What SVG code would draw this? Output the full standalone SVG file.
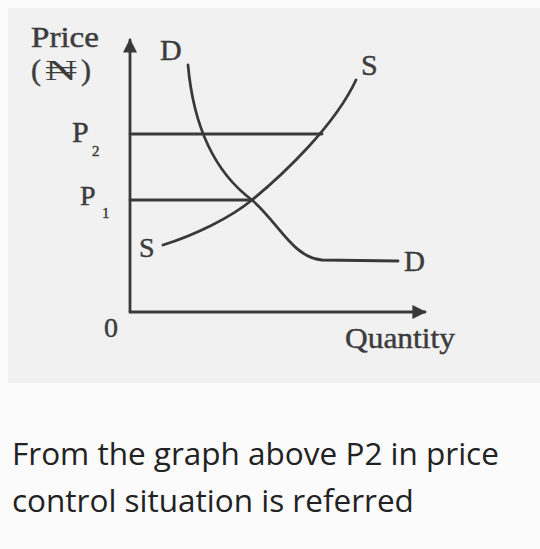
<svg xmlns="http://www.w3.org/2000/svg" width="540" height="549" viewBox="0 0 540 549">
<style>
.lbl{font-family:"Liberation Serif","DejaVu Serif",serif;fill:#3c3c3c;stroke:#3c3c3c;stroke-width:0.45}
.ln{fill:none;stroke:#3a3a3a;stroke-width:2.8;stroke-linecap:round}
.cap{font-family:"Open Sans","Noto Sans",sans-serif;font-size:31.5px;fill:#222}
</style>
<defs>
<marker id="ah" viewBox="0 0 10 10" refX="9" refY="5" markerWidth="5" markerHeight="5" orient="auto" markerUnits="strokeWidth">
<path d="M0,0 L10,5 L0,10 z" fill="#3a3a3a"/>
</marker>
</defs>
<rect width="540" height="549" fill="#fbfbfb"/>
<rect x="8" y="8" width="532" height="375" fill="#f1f1f1"/>
<g id="axes">
<path class="ln" d="M130,312 V40" marker-end="url(#ah)"/>
<path class="ln" d="M130,312 H425" marker-end="url(#ah)"/>
</g>
<g id="connectors">
<path class="ln" d="M130,134 H322"/>
<path class="ln" d="M130,200 H252"/>
</g>
<g id="demand">
<path class="ln" d="M188,65 C192,110 205,165 252,200 C278,222 293,258 322,260 L398,261"/>
<text class="lbl" x="160" y="60" font-size="30">D</text>
<text class="lbl" x="404" y="271" font-size="29">D</text>
</g>
<g id="supply">
<path class="ln" d="M163,245 C195,235 230,218 252,200 C285,173 335,125 356,80"/>
<text class="lbl" x="361" y="75" font-size="30">S</text>
<text class="lbl" x="139" y="257" font-size="28">S</text>
</g>
<g id="labels">
<text class="lbl" x="31" y="47" font-size="29" textLength="68" lengthAdjust="spacingAndGlyphs">Price</text>
<text class="lbl" y="80" font-size="30"><tspan x="31">(</tspan><tspan x="45" textLength="32" lengthAdjust="spacingAndGlyphs" stroke-width="0">₦</tspan><tspan x="81">)</tspan></text>
<text class="lbl" x="72" y="142" font-size="30">P</text>
<text class="lbl" x="92" y="156" font-size="15">2</text>
<text class="lbl" x="80" y="205" font-size="28">P</text>
<text class="lbl" x="102" y="218" font-size="15">1</text>
<text class="lbl" x="104" y="337" font-size="28">0</text>
<text class="lbl" x="345" y="348" font-size="30" textLength="110" lengthAdjust="spacingAndGlyphs">Quantity</text>
</g>
<g id="caption">
<text class="cap" x="12" y="465">From the graph above P2 in price</text>
<text class="cap" x="12" y="512">control situation is referred</text>
</g>
</svg>
